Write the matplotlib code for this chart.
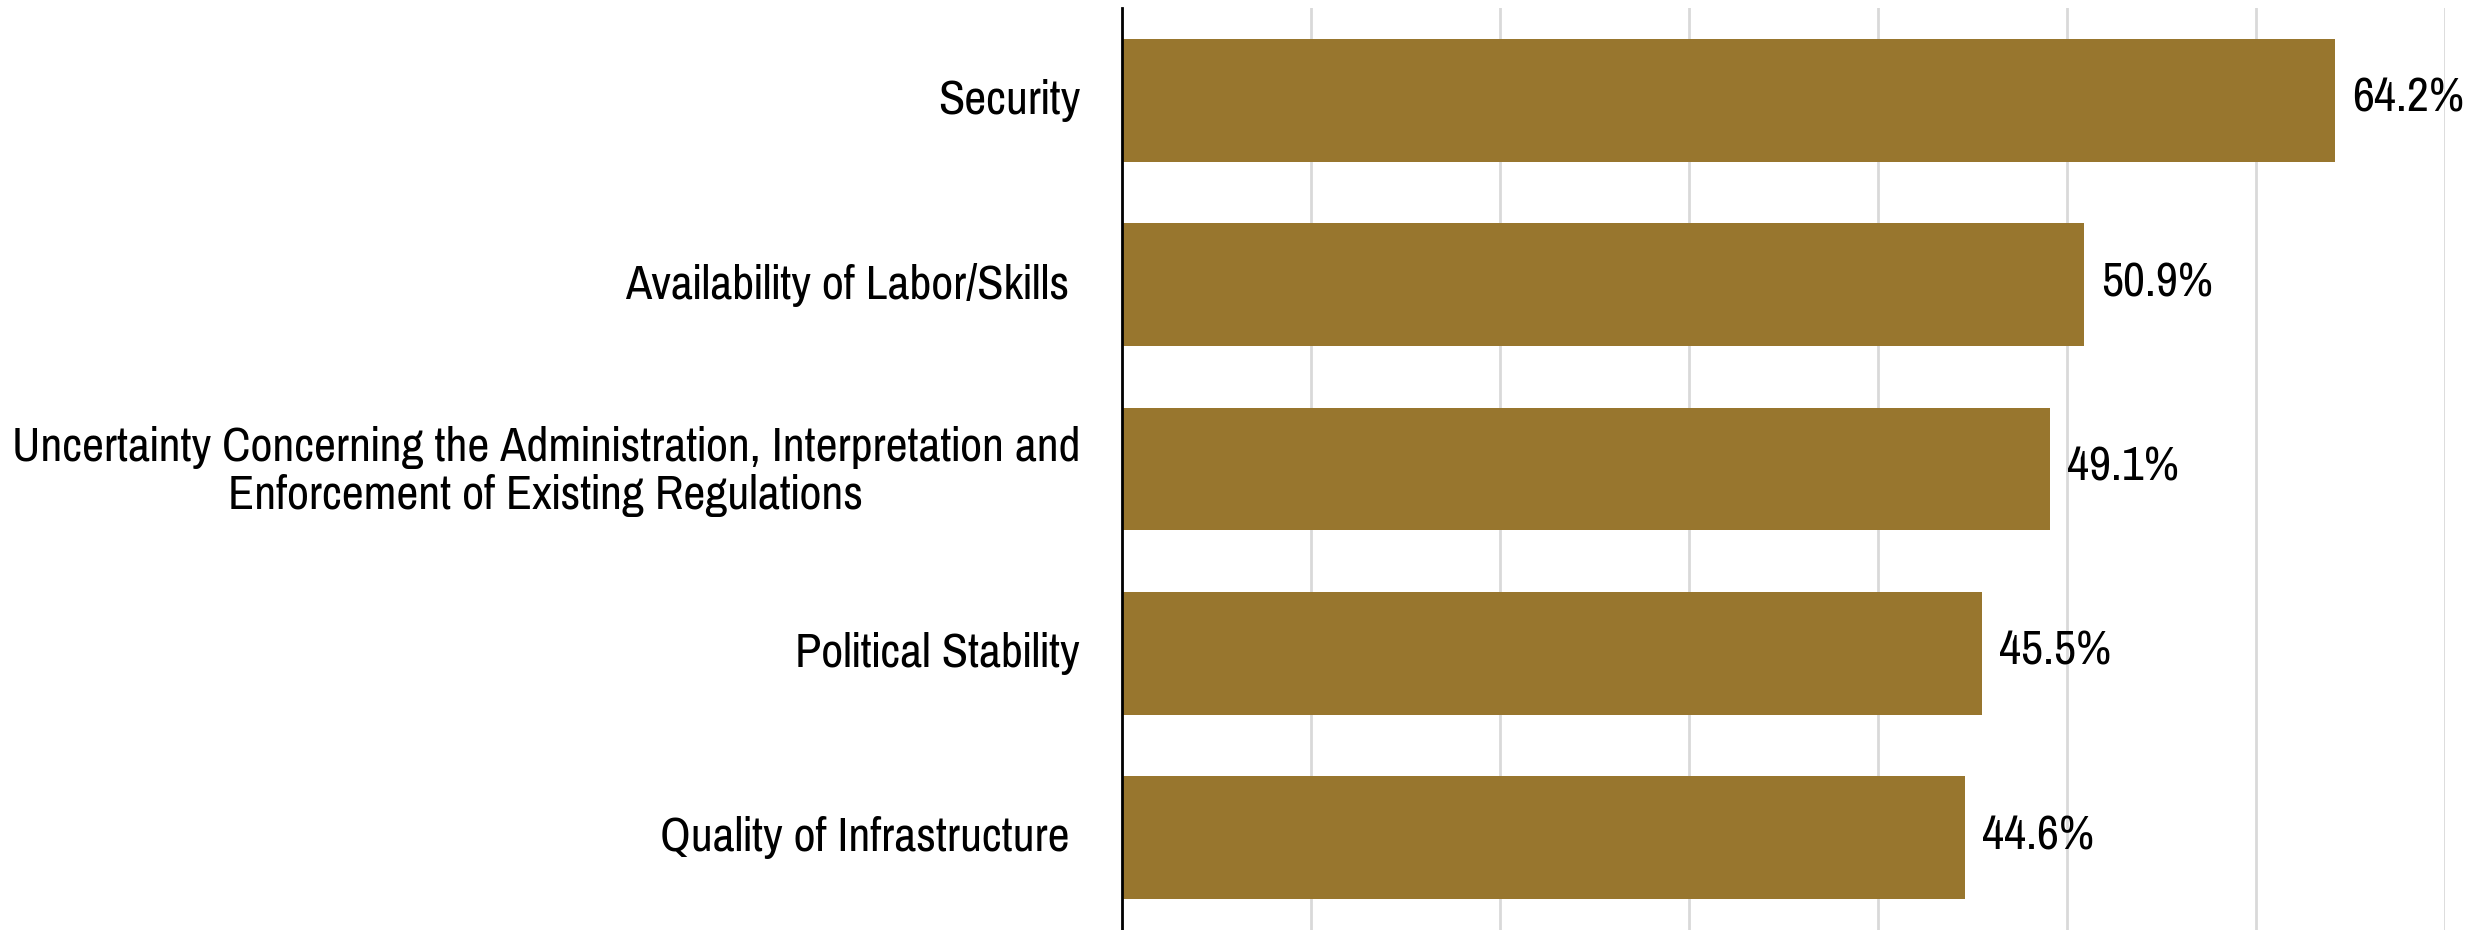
import matplotlib
matplotlib.use("Agg")
import matplotlib.pyplot as plt
import matplotlib.transforms as mtransforms

categories = [
    "Security",
    "Availability of Labor/Skills ",
    "Uncertainty Concerning the Administration, Interpretation and\nEnforcement of Existing Regulations",
    "Political Stability",
    "Quality of Infrastructure ",
]
values = [64.2, 50.9, 49.1, 45.5, 44.6]
value_labels = ["64.2%", "50.9%", "49.1%", "45.5%", "44.6%"]
xticks = [0, 10, 20, 30, 40, 50, 60, 70]

plt.rcParams["font.family"] = ["Pragati Narrow", "DejaVu Sans"]

fig = plt.figure(figsize=(24.81, 9.30), dpi=100)
ax = fig.add_axes([1122 / 2481, 0, (2445 - 1122) / 2481, 1 - 8 / 930])

ypos = list(range(len(categories)))
ax.barh(ypos, values, height=0.667, color="#98762E", zorder=3)
ax.set_ylim(4.5, -0.5)
ax.set_xlim(0, 70)
ax.set_xticks(xticks)
ax.set_xticklabels([])
ax.tick_params(axis="x", length=0)
ax.set_yticks(ypos)
ax.set_yticklabels(categories, fontsize=37.6, linespacing=1.15)
ax.tick_params(axis="y", length=0, pad=42 * 72 / 100)
shift = mtransforms.ScaledTranslation(0, 4 / 100, fig.dpi_scale_trans)
for lbl in ax.get_yticklabels():
    lbl.set_horizontalalignment("right")
    lbl.set_multialignment("center")
    lbl.set_transform(lbl.get_transform() + shift)
ax.grid(axis="x", color="#d9d9d9", linewidth=2, zorder=0)
for s in ["top", "right", "bottom"]:
    ax.spines[s].set_visible(False)
ax.spines["left"].set_linewidth(2)
ax.spines["left"].set_color("black")
ax.spines["left"].set_zorder(4)

for y, v, t in zip(ypos, values, value_labels):
    ax.annotate(t, xy=(v, y), xytext=(17, 2), textcoords="offset pixels",
                va="center", ha="left", fontsize=37.6, clip_on=False)

fig.savefig("out.png", dpi=100, facecolor="white")
